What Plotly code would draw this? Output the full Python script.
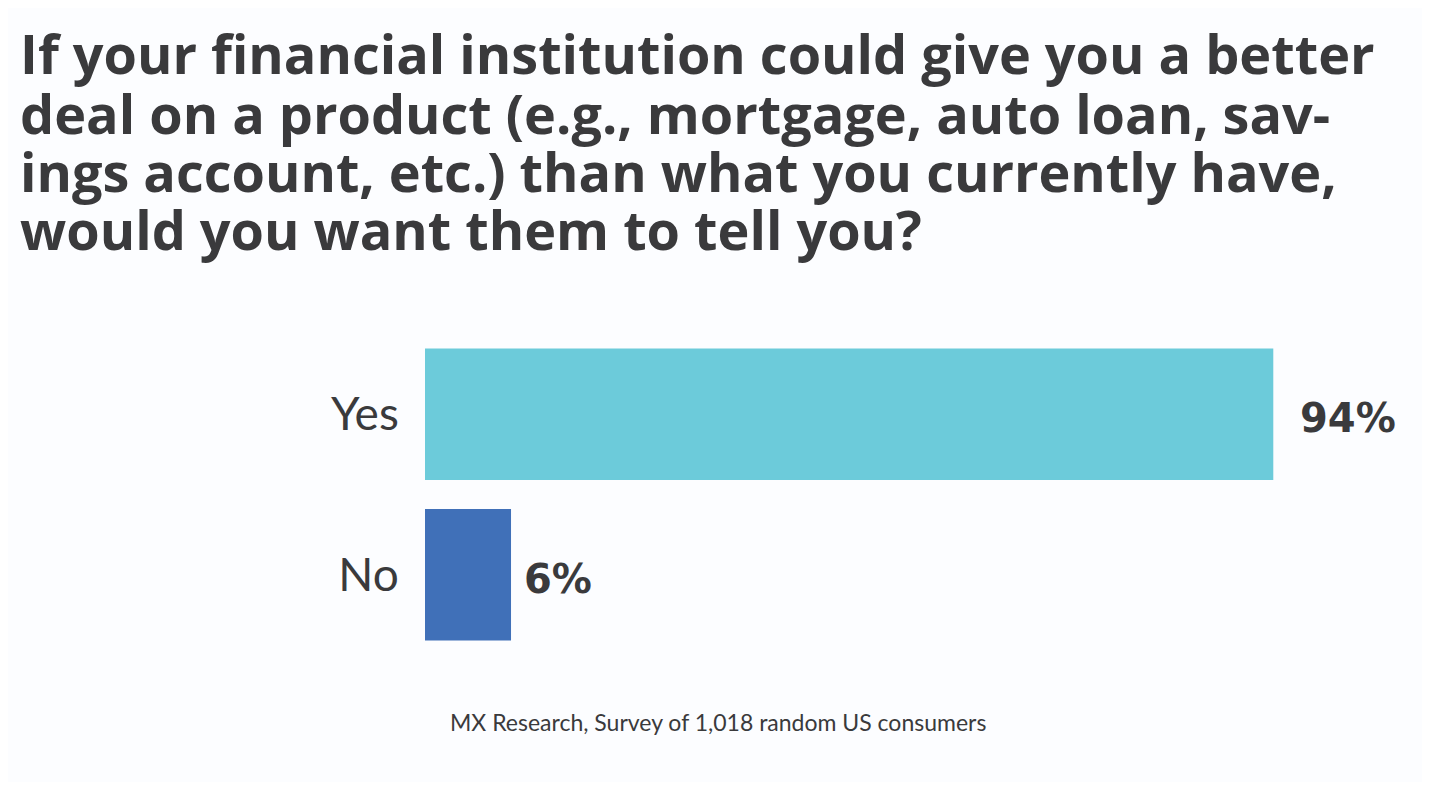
import plotly.graph_objects as go

categories = ["Yes", "No"]
values = [94, 6]
colors = ["#6ccbda", "#4070b8"]
value_labels = ["94%", "6%"]

title_lines = [
    "If your financial institution could give you a better",
    "deal on a product (e.g., mortgage, auto loan, sav-",
    "ings account, etc.) than what you currently have,",
    "would you want them to tell you?",
]
source_text = "MX Research, Survey of 1,018 random US consumers"

bg = "#fcfdff"
text_color = "#3a3a3c"

# figure size (page has an 8px body margin)
OFF = 8
W, H = 1430 - 2 * OFF, 790 - 2 * OFF
ML, MR, MT, MB = 417, 95, 325.5, 126.5
PW, PH = W - ML - MR, H - MT - MB

# the original chart draws bars from a baseline slightly left of zero
BAR_BASE = -3.93
X_MAX = 100.2


def px_x(X):
    return (X - OFF - ML) / PW


def px_y(Y):
    return (H - MB - (Y - OFF)) / PH


fig = go.Figure()
fig.add_trace(go.Bar(
    x=[v - BAR_BASE for v in values], y=categories, orientation="h",
    base=BAR_BASE,
    marker=dict(color=colors, line=dict(width=0)),
    width=0.82, hoverinfo="skip",
))

label_shifts = [25, 11]
for cat, v, lab, sh in zip(categories, values, value_labels, label_shifts):
    fig.add_annotation(
        x=v, y=cat, xref="x", yref="y", text=lab, showarrow=False,
        xanchor="left", yanchor="middle", xshift=sh, yshift=-4,
        font=dict(family="DejaVu Sans", size=40, color=text_color, weight="bold"),
    )

title_centers = [52, 112, 170, 228]
for line, yc in zip(title_lines, title_centers):
    fig.add_annotation(
        x=px_x(18), y=px_y(yc), xref="paper", yref="paper", text=line,
        showarrow=False, xanchor="left", yanchor="middle",
        font=dict(family="Open Sans", size=54, color=text_color, weight="bold"),
    )

fig.add_annotation(
    x=px_x(718), y=px_y(723), xref="paper", yref="paper",
    text=source_text, showarrow=False, xanchor="center", yanchor="middle",
    font=dict(family="Lato", size=23, color=text_color),
)

fig.update_layout(
    width=W, height=H,
    paper_bgcolor=bg, plot_bgcolor=bg,
    margin=dict(l=ML, r=MR, t=MT, b=MB, autoexpand=False),
    showlegend=False,
    xaxis=dict(range=[BAR_BASE, X_MAX], visible=False, fixedrange=True),
    yaxis=dict(
        autorange="reversed", showgrid=False, zeroline=False, showline=False,
        ticks="outside", ticklen=16, tickcolor="rgba(0,0,0,0)",
        tickfont=dict(family="Lato", size=46, color=text_color),
    ),
)

fig.write_html("out.html")
